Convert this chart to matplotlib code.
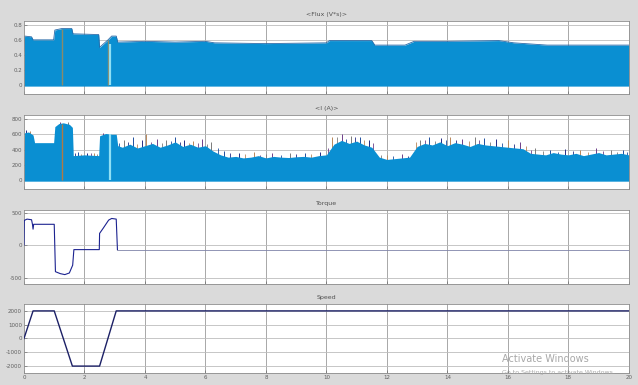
import matplotlib.pyplot as plt
import numpy as np
from itertools import cycle

# flux envelope (V*s)
flux_t = [0, 0.02, 0.25, 0.3, 0.98, 1.02, 1.25, 1.58, 1.62, 2.47, 2.5, 2.78,
          2.9, 3.05, 3.1, 4, 5, 6, 6.3, 8, 10, 10.1, 11.5, 11.6, 12.6, 12.9,
          14, 15.7, 16.2, 17.3, 18.5, 20]
flux_top = [0.45, 0.65, 0.64, 0.60, 0.60, 0.73, 0.75, 0.75, 0.68, 0.67, 0.50, 0.60,
            0.65, 0.65, 0.57, 0.58, 0.57, 0.58, 0.56, 0.55, 0.56, 0.59, 0.59, 0.53,
            0.53, 0.58, 0.58, 0.59, 0.56, 0.53, 0.53, 0.53]
flux_low = -0.015
flux_marks = [1.25, 2.78]
flux_gaps = [2.85]

# phase current envelope (A)
cur_t = [0, 0.02, 0.15, 0.3, 0.35, 0.98, 1.02, 1.15, 1.3, 1.5, 1.6, 1.63, 2.0,
         2.47, 2.5, 2.7, 2.9, 3.05, 3.1,
         3.25, 3.5, 3.75, 4.0, 4.25, 4.5, 4.75, 5.0, 5.25, 5.5, 5.75, 6.0,
         6.25, 6.5, 6.75, 7.0, 7.25, 7.5, 7.75, 8.0, 8.25, 8.5, 8.75, 9.0,
         9.25, 9.5, 9.75, 10.0,
         10.25, 10.5, 10.75, 11.0, 11.25, 11.5,
         11.75, 12.0, 12.25, 12.5, 12.75,
         13.0, 13.25, 13.5, 13.75, 14.0, 14.25, 14.5, 14.75, 15.0, 15.25, 15.5,
         15.75, 16.0, 16.25, 16.5,
         16.75, 17.0, 17.25, 17.5, 17.75, 18.0, 18.25, 18.5, 18.75, 19.0, 19.25,
         19.5, 19.75, 20.0]
cur_top = [280, 620, 630, 590, 490, 490, 700, 740, 750, 730, 690, 320, 330,
           320, 580, 610, 600, 600, 450,
           430, 470, 420, 450, 480, 430, 460, 500, 440, 470, 430, 450,
           380, 330, 300, 310, 290, 300, 320, 290, 310, 300, 295, 305,
           310, 300, 320, 330,
           470, 520, 480, 510, 460, 430,
           300, 270, 280, 290, 300,
           440, 480, 460, 500, 450, 490, 470, 440, 480, 460, 450,
           440, 430, 420, 410,
           350, 340, 330, 360, 340, 330, 350, 320, 340, 360, 330,
           340, 350, 330]
cur_low = -15
cur_marks = [1.25]
cur_gaps = [2.85]

# spikes sticking out of the current band
spike_t = [0.05, 0.2, 1.2, 1.45, 1.8, 2.1, 2.3, 2.6, 3.3, 3.6, 3.9, 4.05, 4.4,
           4.7, 5.0, 5.3, 5.6, 5.9, 6.2, 6.6, 7.1, 7.6, 8.2, 8.8, 9.3, 9.8,
           10.2, 10.5, 10.8, 11.1, 11.4, 12.0, 12.5, 13.1, 13.4, 13.8, 14.1,
           14.5, 14.9, 15.2, 15.6, 16.0, 16.4, 16.9, 17.4, 17.9, 18.4, 18.9,
           19.4, 19.8]
spike_top = [650, 640, 760, 760, 370, 360, 360, 620, 530, 560, 520, 600, 540,
             520, 560, 530, 510, 540, 500, 380, 360, 370, 360, 350, 360, 370,
             560, 600, 580, 560, 530, 330, 340, 530, 560, 550, 570, 540, 560,
             550, 540, 520, 500, 420, 400, 410, 390, 420, 400, 390]

# smaller spikes just above the band
tick_t = [1.7, 1.9, 2.2, 2.4, 3.15, 3.45, 3.75, 4.2, 4.55, 4.85, 5.15, 5.45,
          5.75, 6.05, 6.4, 6.8, 7.3, 7.8, 8.0, 8.5, 9.0, 9.5, 10.05, 10.35,
          10.65, 10.95, 11.25, 11.55, 11.8, 12.2, 12.7, 12.95, 13.25, 13.6,
          13.95, 14.3, 14.7, 15.05, 15.4, 15.8, 16.2, 16.6, 16.75, 17.15,
          17.65, 18.15, 18.65, 19.15, 19.6, 19.95]
tick_top = [350, 345, 350, 340, 480, 500, 470, 500, 490, 510, 500, 480,
            490, 470, 420, 350, 340, 330, 340, 330, 340, 335, 420, 560,
            540, 570, 520, 480, 330, 310, 320, 500, 520, 510, 530, 530,
            510, 520, 500, 490, 470, 450, 390, 380, 370, 380, 370, 380,
            370, 370]

# electromagnetic torque
torque_t = [0, 0.01, 0.1, 0.25, 0.28, 0.3, 0.32, 1.0, 1.04, 1.2, 1.35, 1.5,
            1.61, 1.65, 2.49, 2.5, 2.62, 2.8, 2.9, 3.05, 3.09]
torque = [0, 380, 400, 390, 320, 245, 320, 320, -410, -440, -455, -430,
          -310, -70, -70, 180, 260, 385, 410, 400, -70]
torque_ss_t = [3.09, 20]
torque_ss = [-70, -70]

# rotor speed
speed_t = [0, 0.3, 1.0, 1.6, 2.5, 3.05, 20]
speed = [0, 2000, 2000, -2000, -2000, 2000, 2000]

titles = ['<Flux (V*s)>', '<I (A)>', 'Torque', 'Speed']
yticks = [[0, 0.2, 0.4, 0.6, 0.8], [0, 200, 400, 600, 800],
          [-500, 0, 500], [-2000, -1000, 0, 1000, 2000]]
ylims = [(-0.12, 0.85), (-118, 852), (-600, 540), (-2500, 2500)]
xticks = list(range(0, 21, 2))

band = '#0a8fd2'
bg = '#dadada'

fig = plt.figure(figsize=(6.38, 3.85), dpi=100, facecolor=bg)
# [left, bottom, width, height] in figure fraction
rects = [[0.0376, 0.7558, 0.948, 0.1896],
         [0.0376, 0.5090, 0.948, 0.1922],
         [0.0376, 0.2623, 0.948, 0.1922],
         [0.0376, 0.0312, 0.948, 0.1792]]
axes = [fig.add_axes(r) for r in rects]

for i, ax in enumerate(axes):
    ax.set_facecolor('white')
    ax.set_xlim(0, 20)
    ax.set_ylim(*ylims[i])
    ax.set_xticks(xticks)
    ax.set_yticks(yticks[i])
    ax.set_yticklabels([f'{v:g}' for v in yticks[i]])
    ax.tick_params(direction='in', length=2, width=0.4, labelsize=4,
                   colors='#606060', pad=1.5)
    if i < 3:
        ax.set_xticklabels([])
    for s in ax.spines.values():
        s.set_color('#8c8c8c')
        s.set_linewidth(0.6)
    for x in xticks[1:-1]:
        ax.axvline(x, color='#9a9a9a', lw=0.6, zorder=0.5)
    for y in yticks[i]:
        ax.axhline(y, color='#bdbdbd', lw=0.6, zorder=0.5)
    pos = ax.get_position()
    fig.text(pos.x0 + pos.width / 2, pos.y1 + 0.018, titles[i], ha='center',
             va='center', fontsize=4.5, color='#505050')

# flux
ax = axes[0]
ax.fill_between(flux_t, flux_low, flux_top, color=band, lw=0, zorder=2)
ax.plot(flux_t, flux_top, color='#2a6aa8', lw=0.6, zorder=2.1)
ax.vlines(flux_marks, 0, [0.75, 0.6], color='#8a8a6a', lw=1.0, zorder=3)
ax.vlines(flux_gaps, 0, 0.55, color='#8fe0f5', lw=1.6, zorder=3)

# current
ax = axes[1]
cols = cycle(['#242c86', '#b8875a', '#6e3f8a', '#7a7a7a', '#1e4fa0'])
ax.vlines(spike_t, 0, spike_top, colors=[next(cols) for _ in spike_t],
          lw=0.7, zorder=1.8)
ax.vlines(tick_t, 0, tick_top, colors=[next(cols) for _ in tick_t],
          lw=0.6, zorder=1.8)
ax.fill_between(cur_t, cur_low, cur_top, color=band, lw=0, zorder=2)
ax.vlines(cur_marks, 0, 740, color='#b07a45', lw=1.0, zorder=3)
ax.vlines(cur_gaps, 0, 600, color='#8fe0f5', lw=1.6, zorder=3)

# torque
ax = axes[2]
ax.plot(torque_t, torque, color='#1c2390', lw=0.8, zorder=3)
ax.plot(torque_ss_t, torque_ss, color='#7f83a8', lw=0.6, zorder=3)

# speed
ax = axes[3]
ax.plot(speed_t, speed, color='#1c2066', lw=1.0, zorder=3)

fig.text(0.787, 0.06, 'Activate Windows', fontsize=7, color='#a8a8a8')
fig.text(0.787, 0.028, 'Go to Settings to activate Windows.', fontsize=4.5,
         color='#a8a8a8')

fig.savefig('out.png', dpi=100, facecolor=bg)
